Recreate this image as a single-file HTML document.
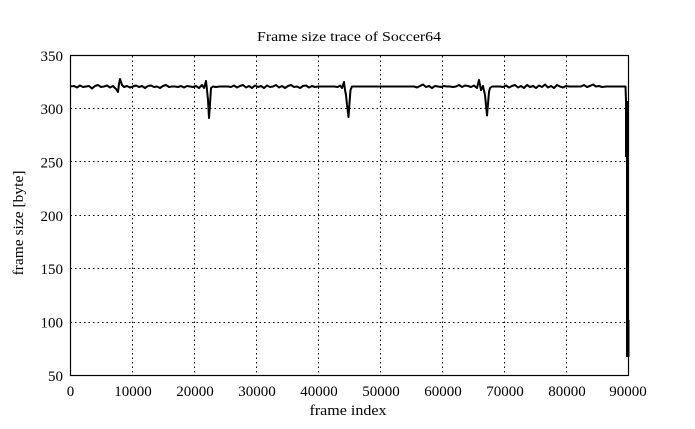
<!DOCTYPE html>
<html>
<head>
<meta charset="utf-8">
<style>
html,body{margin:0;padding:0;background:#fff;}
svg{display:block;}
text{font-family:"Liberation Serif",serif;fill:#000;}
</style>
</head>
<body>
<svg width="695" height="429" viewBox="0 0 695 429" xmlns="http://www.w3.org/2000/svg">
<rect width="695" height="429" fill="#fff"/>
<!-- grid -->
<g stroke="#000" stroke-width="1" stroke-dasharray="1.5,3" fill="none">
<line x1="70.5" y1="108.5" x2="628" y2="108.5"/>
<line x1="70.5" y1="161.5" x2="628" y2="161.5"/>
<line x1="70.5" y1="215.5" x2="628" y2="215.5"/>
<line x1="70.5" y1="268.5" x2="628" y2="268.5"/>
<line x1="70.5" y1="322.5" x2="628" y2="322.5"/>
<line x1="132.5" y1="56" x2="132.5" y2="375"/>
<line x1="194.5" y1="56" x2="194.5" y2="375"/>
<line x1="256.5" y1="56" x2="256.5" y2="375"/>
<line x1="318.5" y1="56" x2="318.5" y2="375"/>
<line x1="380.5" y1="56" x2="380.5" y2="375"/>
<line x1="442.5" y1="56" x2="442.5" y2="375"/>
<line x1="504.5" y1="56" x2="504.5" y2="375"/>
<line x1="566.5" y1="56" x2="566.5" y2="375"/>
</g>
<!-- frame -->
<rect x="70.5" y="55.5" width="558" height="320" fill="none" stroke="#000" stroke-width="1.2"/>
<!-- data -->
<polyline fill="none" stroke="#000" stroke-width="2" stroke-linejoin="round" points="70,86.5 74,86 77,87.5 80,85.5 83,87 86,86.5 89,86 92,88.5 95,86 98,85 101,87 104,86.5 107,85.5 110,87.5 113,86 116,89 118,92 119,84 120,79 122,85 124,87 127,86 130,87.5 133,86.5 136,85.5 139,87 142,86 145,88 148,86 151,85.5 154,87 157,86.5 160,88 163,86 166,85 169,87 172,86.5 175,86.5 178,87 181,86 184,87.5 187,86 190,86.5 193,87 196,86 199,88 202,85 204,88 206,81 207,90 208,100 209,118 210,104 211,88 213,86.5 216,87 220,86.5 224,86.5 228,86.5 231,87 234,85.5 237,87.5 240,86 243,85 246,87.5 249,86 252,88 255,85.5 258,87 261,86 264,88 267,85.5 270,87 273,86.5 276,85 279,87.5 282,86 285,88 288,86 291,85 294,87 297,86.5 300,88 303,86 306,85.5 309,87.5 312,86 315,87 318,86.5 322,86.5 326,86.5 330,86.5 334,86.5 338,87 340,85.5 342,88 344,82 345,90 346,95 347,105 348.5,117 349.5,103 350.5,90 352,86.5 360,86.5 370,86.5 380,86.5 390,86.5 400,86.5 410,86.5 414,86.5 417,87.5 420,86 423,84.5 426,87 429,86 432,88 435,86 438,86.5 441,87 444,86 447,86.5 450,86.5 453,87 456,86.5 459,85 462,87 465,85.5 468,86 471,87 474,85.5 477,88 479,80 481,90 483,86 485,95 486,105 487,115.5 488,104 489,92 490,88 492,86.5 496,86.5 500,86.5 503,87 506,85.5 509,87.5 512,86 515,85 518,87.5 521,86 524,88 527,85 530,87 533,86 536,88 539,85.5 542,87 545,84.5 548,87.5 551,86 554,88 557,85 560,86.5 563,87.5 566,86 569,86.5 573,86.5 577,86.5 581,86.5 584,85 587,87 590,86 593,84.5 596,86.5 599,86 602,87 606,86.5 610,86.5 614,86.5 618,86.5 622,86.5 625.5,86.5 626,101"/>
<rect x="625" y="101" width="3.5" height="56" fill="#000"/>
<rect x="626" y="156" width="2.5" height="168" fill="#000"/>
<rect x="626" y="320" width="3.5" height="37" fill="#000"/>
<!-- title -->
<text x="349" y="41" font-size="14" text-anchor="middle" textLength="184" lengthAdjust="spacingAndGlyphs">Frame size trace of Soccer64</text>
<!-- y tick labels -->
<g font-size="15" text-anchor="end">
<text x="63" y="61">350</text>
<text x="63" y="114">300</text>
<text x="63" y="167.5">250</text>
<text x="63" y="221">200</text>
<text x="63" y="274">150</text>
<text x="63" y="327.5">100</text>
<text x="63" y="381">50</text>
</g>
<!-- x tick labels -->
<g font-size="15" text-anchor="middle">
<text x="70.5" y="396">0</text>
<text x="133" y="396">10000</text>
<text x="195" y="396">20000</text>
<text x="257" y="396">30000</text>
<text x="319" y="396">40000</text>
<text x="381" y="396">50000</text>
<text x="443" y="396">60000</text>
<text x="505" y="396">70000</text>
<text x="567" y="396">80000</text>
<text x="628" y="396">90000</text>
</g>
<text x="348" y="415" font-size="15" text-anchor="middle" textLength="77" lengthAdjust="spacingAndGlyphs">frame index</text>
<text transform="translate(23,223) rotate(-90)" font-size="15" text-anchor="middle" textLength="105" lengthAdjust="spacingAndGlyphs">frame size [byte]</text>
</svg>
</body>
</html>
